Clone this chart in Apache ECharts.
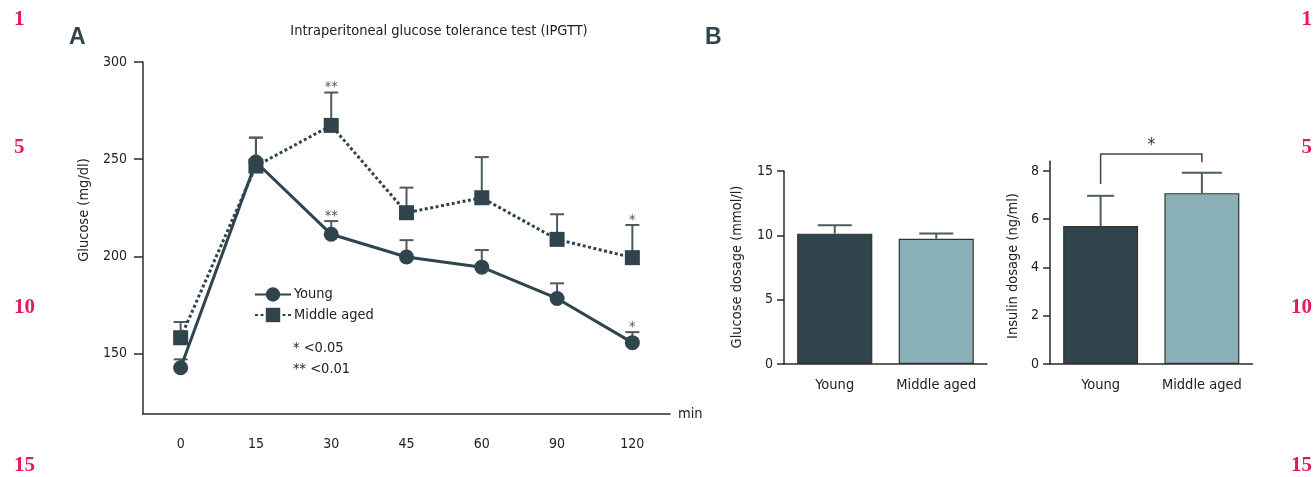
<!DOCTYPE html>
<html>
<head>
<meta charset="utf-8">
<script src="https://cdn.jsdelivr.net/npm/echarts@6/dist/echarts.min.js"></script>
<style>
html,body{margin:0;padding:0;background:#fff;}
#c{width:1313px;height:477px;}
</style>
</head>
<body>
<div id="c"></div>
<script>
// ---------- data ----------
const timeLabels = ['0', '15', '30', '45', '60', '90', '120'];
const youngMean = [142.8, 248.6, 211.4, 199.7, 194.5, 178.4, 155.7];
const youngUpper = [147.1, 261.1, 218.2, 208.4, 203.3, 186.2, 161.1];
const midMean = [158.2, 246.5, 267.4, 222.5, 230.2, 208.8, 199.4];
const midUpper = [166.3, 261.1, 284.3, 235.4, 251.1, 221.7, 216.2];
const youngSig = ['', '', '**', '', '', '', '*'];
const midSig = ['', '', '**', '', '', '', '*'];
const glucoseTicks = [150, 200, 250, 300];

const groups = ['Young', 'Middle aged'];
const glucoseDose = [10.13, 9.74];
const glucoseDoseUpper = [10.78, 10.15];
const glucoseDoseTicks = [0, 5, 10, 15];
const insulinDose = [5.72, 7.08];
const insulinDoseUpper = [6.97, 7.93];
const insulinTicks = [0, 2, 4, 6, 8];
// bracket: [from group, to group, bracket level, left leg end, right leg end]
const insulinBracket = [[0, 1, 8.7, 7.46, 8.36]];
const insulinBracketLabel = '*';

const lineNumbers = ['1', '5', '10', '15'];

// ---------- styles ----------
const FONT = "'Liberation Sans Narrow', 'DejaVu Sans Condensed', 'Roboto Condensed', sans-serif";
const FS = 14.5;
const TFS = 14;
const DARK = '#2f444c';
const LIGHT = '#8ab0b7';
const ERR = '#4d5b60';
const AXIS = '#2b2b2b';
const PINK = '#e8195b';

function errorBars(xi, yi, means, uppers, capW, z) {
  return {
    type: 'custom', xAxisIndex: xi, yAxisIndex: yi, z: z, silent: true,
    data: means.map((m, i) => [i, m, uppers[i]]),
    renderItem: function (params, api) {
      const x = api.value(0);
      const lo = api.coord([x, api.value(1)]);
      const hi = api.coord([x, api.value(2)]);
      const w = capW[params.dataIndex];
      const st = { stroke: ERR, lineWidth: 2 };
      return { type: 'group', children: [
        { type: 'line', shape: { x1: lo[0], y1: lo[1], x2: hi[0], y2: hi[1] }, style: st },
        { type: 'line', shape: { x1: hi[0] - w / 2, y1: hi[1], x2: hi[0] + w / 2, y2: hi[1] }, style: st }
      ]};
    }
  };
}

function sigMarks(xi, yi, uppers, labels) {
  return {
    type: 'custom', xAxisIndex: xi, yAxisIndex: yi, z: 5, silent: true,
    data: uppers.map((u, i) => [i, u]),
    renderItem: function (params, api) {
      const lab = labels[params.dataIndex];
      if (!lab) return null;
      const p = api.coord([api.value(0), api.value(1)]);
      return { type: 'text', x: p[0], y: p[1] - 5,
        style: { text: lab, fill: '#555', font: FS + 'px ' + FONT, align: 'center', verticalAlign: 'middle' } };
    }
  };
}

function axisX(gi, data, extra) {
  return Object.assign({
    type: 'category', gridIndex: gi, data: data, boundaryGap: true,
    axisLine: { lineStyle: { color: AXIS, width: 1.5 } },
    axisTick: { alignWithLabel: true, length: 8, lineStyle: { color: AXIS, width: 1.5 } },
    axisLabel: { color: '#222', fontSize: FS, fontFamily: FONT, margin: 14, interval: 0 },
    splitLine: { show: false }
  }, extra || {});
}
function axisY(gi, min, max, ticks, extra) {
  return Object.assign({
    type: 'value', gridIndex: gi, min: min, max: max,
    axisLine: { show: true, lineStyle: { color: AXIS, width: 1.5 } },
    axisTick: { show: true, length: 7, customValues: ticks, lineStyle: { color: AXIS, width: 1.5 } },
    axisLabel: { color: '#222', fontSize: TFS, fontFamily: FONT, margin: 11, customValues: ticks },
    splitLine: { show: false }
  }, extra || {});
}

const nameFont = FS + 'px ' + FONT;
const graphics = [
  { type: 'text', left: 69, top: 26, style: { text: 'A', font: 'bold 23px "Liberation Sans", sans-serif', fill: DARK } },
  { type: 'text', left: 705, top: 26, style: { text: 'B', font: 'bold 23px "Liberation Sans", sans-serif', fill: DARK } },
  { type: 'text', x: 84, y: 210, rotation: Math.PI / 2, style: { text: 'Glucose (mg/dl)', font: nameFont, fill: '#222', align: 'center', verticalAlign: 'middle' } },
  { type: 'text', x: 737, y: 267, rotation: Math.PI / 2, style: { text: 'Glucose dosage (mmol/l)', font: nameFont, fill: '#222', align: 'center', verticalAlign: 'middle' } },
  { type: 'text', x: 1013, y: 266, rotation: Math.PI / 2, style: { text: 'Insulin dosage (ng/ml)', font: nameFont, fill: '#222', align: 'center', verticalAlign: 'middle' } },
  { type: 'text', x: 293, y: 348, style: { text: '* <0.05', font: nameFont, fill: '#222', verticalAlign: 'middle' } },
  { type: 'text', x: 293, y: 369, style: { text: '** <0.01', font: nameFont, fill: '#222', verticalAlign: 'middle' } }
];
const numY = [20, 148, 308, 466];
lineNumbers.forEach((t, i) => {
  graphics.push({ type: 'text', x: 14, y: numY[i], style: { text: t, font: 'bold 21px "Liberation Serif", serif', fill: PINK, verticalAlign: 'middle' } });
  graphics.push({ type: 'text', x: 1312, y: numY[i], style: { text: t, font: 'bold 21px "Liberation Serif", serif', fill: PINK, align: 'right', verticalAlign: 'middle' } });
});

const option = {
  animation: false,
  textStyle: { fontFamily: FONT },
  title: { text: 'Intraperitoneal glucose tolerance test (IPGTT)', left: 434, top: 19, textAlign: 'center',
    textStyle: { fontSize: FS, fontWeight: 'normal', color: '#222', fontFamily: FONT } },
  legend: {
    data: ['Young', 'Middle aged'], orient: 'vertical', left: 249, top: 282,
    itemWidth: 36, itemHeight: 18, itemGap: 5.5,
    textStyle: { fontSize: FS, color: '#222', fontFamily: FONT, padding: [0, 0, 0, -2] }
  },
  grid: [
    { left: 143, top: 62, width: 527, height: 352 },
    { left: 784, top: 171, width: 203, height: 193 },
    { left: 1050, top: 161.3, width: 202.5, height: 202.7 }
  ],
  xAxis: [
    axisX(0, timeLabels, { axisTick: { alignWithLabel: true, length: 9, lineStyle: { color: AXIS, width: 1.5 } },
      axisLabel: { color: '#222', fontSize: TFS, fontFamily: FONT, margin: 23, interval: 0 },
      name: 'min', nameLocation: 'end', nameGap: 8, nameTextStyle: { fontSize: FS, color: '#222', fontFamily: FONT } }),
    axisX(1, groups),
    axisX(2, groups)
  ],
  yAxis: [
    axisY(0, 119, 300, glucoseTicks, { axisTick: { show: true, length: 9, customValues: glucoseTicks, lineStyle: { color: AXIS, width: 1.5 } },
      axisLabel: { color: '#222', fontSize: TFS, fontFamily: FONT, margin: 16, customValues: glucoseTicks } }),
    axisY(1, 0, 15, glucoseDoseTicks),
    axisY(2, 0, 8.4, insulinTicks)
  ],
  graphic: graphics,
  series: [
    errorBars(0, 0, midMean, midUpper, midMean.map(() => 14), 1),
    errorBars(0, 0, youngMean, youngUpper, youngMean.map(() => 14), 1),
    {
      name: 'Middle aged', type: 'line', xAxisIndex: 0, yAxisIndex: 0, data: midMean, z: 3,
      symbol: 'rect', symbolSize: 15, itemStyle: { color: DARK },
      lineStyle: { color: DARK, width: 3, type: [3, 2.5] }
    },
    {
      name: 'Young', type: 'line', xAxisIndex: 0, yAxisIndex: 0, data: youngMean, z: 4,
      symbol: 'circle', symbolSize: 15, itemStyle: { color: DARK },
      lineStyle: { color: DARK, width: 3 }
    },
    sigMarks(0, 0, midUpper, midSig),
    sigMarks(0, 0, youngUpper, youngSig),
    {
      type: 'bar', xAxisIndex: 1, yAxisIndex: 1, barWidth: '74%',
      data: glucoseDose.map((v, i) => ({ value: v, itemStyle: { color: i === 0 ? DARK : LIGHT } })),
      itemStyle: { borderColor: '#333', borderWidth: 1.2 }
    },
    errorBars(1, 1, glucoseDose, glucoseDoseUpper, [34, 34], 5),
    {
      type: 'bar', xAxisIndex: 2, yAxisIndex: 2, barWidth: '74%',
      data: insulinDose.map((v, i) => ({ value: v, itemStyle: { color: i === 0 ? DARK : LIGHT } })),
      itemStyle: { borderColor: '#333', borderWidth: 1.2 }
    },
    errorBars(2, 2, insulinDose, insulinDoseUpper, [27, 40], 5),
    {
      type: 'custom', xAxisIndex: 2, yAxisIndex: 2, z: 5, silent: true,
      data: insulinBracket,
      renderItem: function (params, api) {
        const a = api.coord([api.value(0), api.value(2)]);
        const b = api.coord([api.value(1), api.value(2)]);
        const aEnd = api.coord([api.value(0), api.value(3)]);
        const bEnd = api.coord([api.value(1), api.value(4)]);
        const st = { stroke: '#444', lineWidth: 1.5, fill: null };
        return { type: 'group', children: [
          { type: 'polyline', shape: { points: [[aEnd[0], aEnd[1]], [a[0], a[1]], [b[0], b[1]], [bEnd[0], bEnd[1]]] }, style: st },
          { type: 'text', x: (a[0] + b[0]) / 2, y: a[1] - 8,
            style: { text: insulinBracketLabel, font: '17px ' + FONT, fill: '#333', align: 'center', verticalAlign: 'middle' } }
        ]};
      }
    }
  ]
};

const chart = echarts.init(document.getElementById('c'), null, { renderer: 'canvas' });
chart.setOption(option);
</script>
</body>
</html>
